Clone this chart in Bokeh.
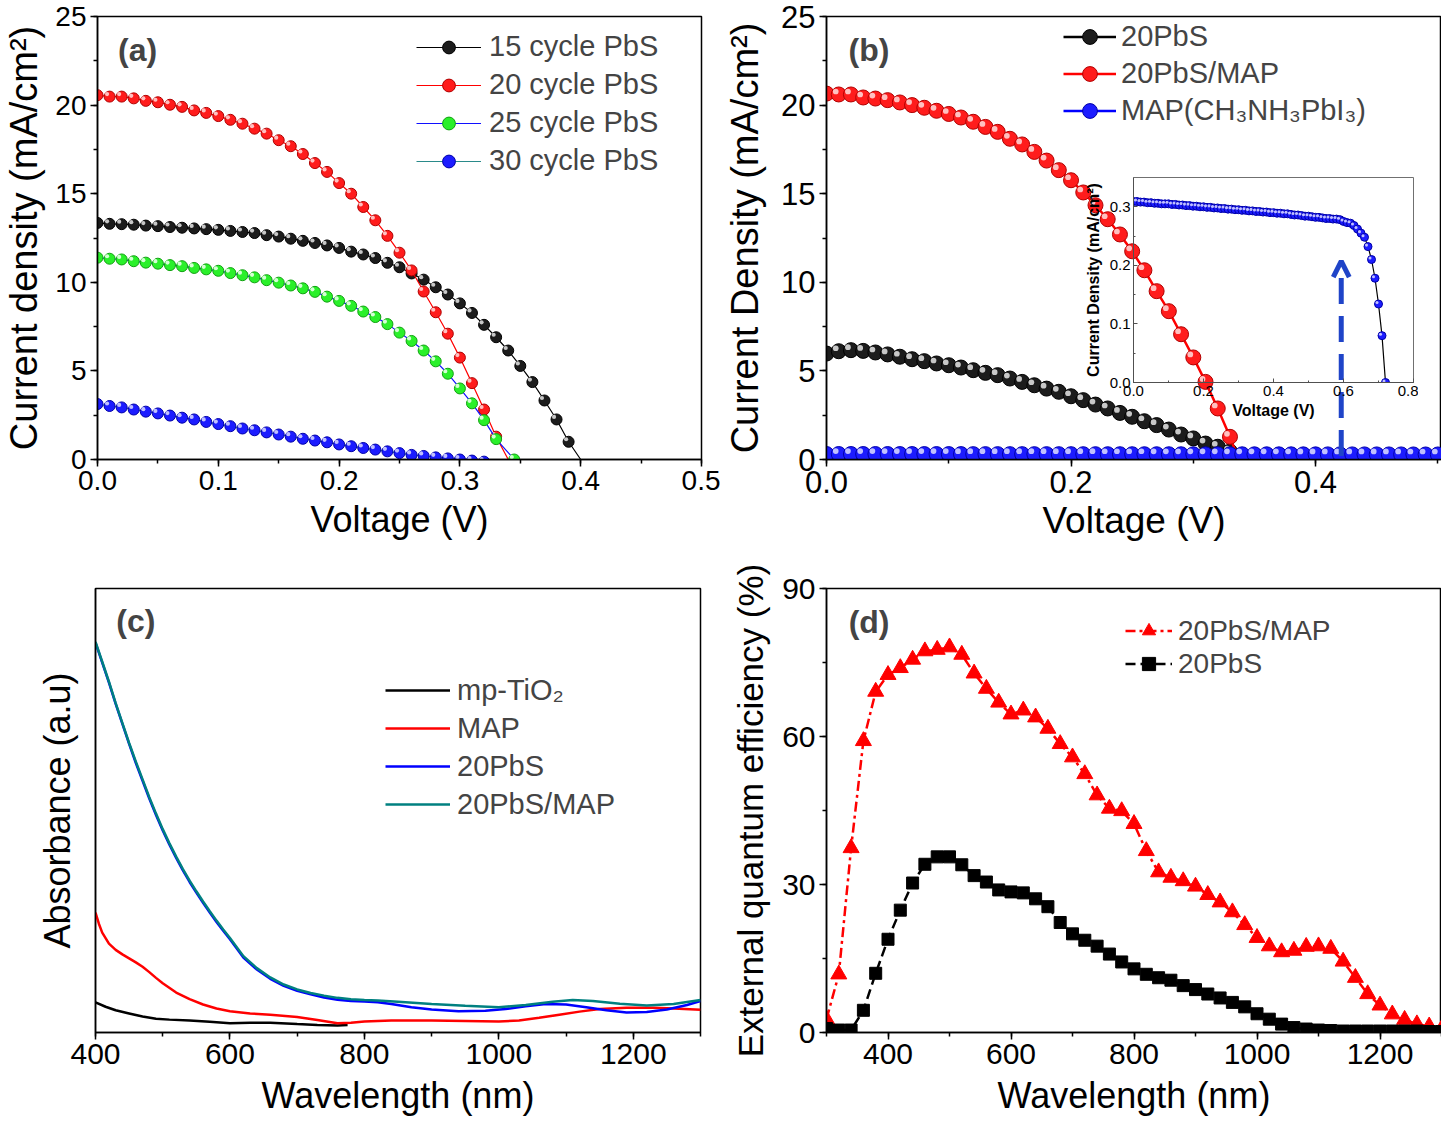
from bokeh.plotting import figure
from bokeh.models import (Range1d, SingleIntervalTicker, FixedTicker, NumeralTickFormatter,
                          Legend, LegendItem, Label, Arrow, OpenHead)
from bokeh.layouts import row, column
from bokeh.embed import file_html
from bokeh.resources import INLINE
import numpy as np

FONT = "Liberation Sans"

# ---------------- Panel (a): J-V for PbS cycles ----------------
V_15 = [0.00, 0.01, 0.02, 0.03, 0.04, 0.05, 0.06, 0.07, 0.08, 0.09, 0.10, 0.11, 0.12, 0.13,
        0.14, 0.15, 0.16, 0.17, 0.18, 0.19, 0.20, 0.21, 0.22, 0.23, 0.24, 0.25, 0.26, 0.27,
        0.28, 0.29, 0.30, 0.31, 0.32, 0.33, 0.34, 0.35, 0.36, 0.37, 0.38, 0.39, 0.40]
J_15 = [13.35, 13.3, 13.28, 13.25, 13.2, 13.17, 13.12, 13.08, 13.04, 13.0, 12.96, 12.9, 12.84,
        12.78, 12.66, 12.58, 12.46, 12.34, 12.22, 12.08, 11.94, 11.73, 11.57, 11.37, 11.1,
        10.85, 10.5, 10.15, 9.72, 9.31, 8.81, 8.27, 7.6, 6.9, 6.15, 5.28, 4.37, 3.33, 2.26,
        1.0, 0.0]
V_20 = [0.00, 0.01, 0.02, 0.03, 0.04, 0.05, 0.06, 0.07, 0.08, 0.09, 0.10, 0.11, 0.12, 0.13,
        0.14, 0.15, 0.16, 0.17, 0.18, 0.19, 0.20, 0.21, 0.22, 0.23, 0.24, 0.25, 0.26, 0.27,
        0.28, 0.29, 0.30, 0.31, 0.32, 0.33, 0.34]
J_20 = [20.56, 20.48, 20.48, 20.38, 20.24, 20.16, 20.02, 19.9, 19.7, 19.56, 19.38, 19.17,
        18.95, 18.67, 18.39, 18.02, 17.68, 17.24, 16.73, 16.23, 15.6, 15.0, 14.25, 13.5,
        12.62, 11.67, 10.67, 9.48, 8.31, 7.1, 5.75, 4.31, 2.82, 1.29, 0.0]
V_25 = [0.00, 0.01, 0.02, 0.03, 0.04, 0.05, 0.06, 0.07, 0.08, 0.09, 0.10, 0.11, 0.12, 0.13,
        0.14, 0.15, 0.16, 0.17, 0.18, 0.19, 0.20, 0.21, 0.22, 0.23, 0.24, 0.25, 0.26, 0.27,
        0.28, 0.29, 0.30, 0.31, 0.32, 0.33, 0.345]
J_25 = [11.39, 11.33, 11.29, 11.19, 11.11, 11.05, 10.97, 10.91, 10.81, 10.73, 10.65, 10.52,
        10.4, 10.28, 10.12, 9.98, 9.82, 9.66, 9.46, 9.19, 8.95, 8.67, 8.35, 8.04, 7.64, 7.16,
        6.69, 6.15, 5.54, 4.84, 4.01, 3.17, 2.22, 1.15, 0.0]
V_30 = [0.00, 0.01, 0.02, 0.03, 0.04, 0.05, 0.06, 0.07, 0.08, 0.09, 0.10, 0.11, 0.12, 0.13,
        0.14, 0.15, 0.16, 0.17, 0.18, 0.19, 0.20, 0.21, 0.22, 0.23, 0.24, 0.25, 0.26, 0.27,
        0.28, 0.29, 0.30, 0.31, 0.32]
J_30 = [3.13, 3.02, 2.94, 2.82, 2.70, 2.6, 2.48, 2.36, 2.26, 2.12, 2.0, 1.88, 1.75, 1.65,
        1.53, 1.41, 1.29, 1.17, 1.07, 0.97, 0.85, 0.75, 0.65, 0.56, 0.46, 0.36, 0.26, 0.2,
        0.12, 0.06, 0.0, -0.06, -0.12]

# ---------------- Panel (b): J-V comparison ----------------
V_PBS = [0.00, 0.01, 0.02, 0.03, 0.04, 0.05, 0.06, 0.07, 0.08, 0.09, 0.10, 0.11, 0.12, 0.13,
         0.14, 0.15, 0.16, 0.17, 0.18, 0.19, 0.20, 0.21, 0.22, 0.23, 0.24, 0.25, 0.26, 0.27,
         0.28, 0.29, 0.30, 0.31, 0.32, 0.33]
J_PBS = [5.98, 6.11, 6.17, 6.13, 6.04, 5.93, 5.8, 5.66, 5.55, 5.42, 5.32, 5.19, 5.04, 4.89,
         4.76, 4.57, 4.38, 4.19, 4.0, 3.82, 3.57, 3.35, 3.1, 2.88, 2.63, 2.41, 2.16, 1.94,
         1.69, 1.41, 1.19, 0.9, 0.72, 0.45]
V_PBSMAP = [0.00, 0.01, 0.02, 0.03, 0.04, 0.05, 0.06, 0.07, 0.08, 0.09, 0.10, 0.11, 0.12,
            0.13, 0.14, 0.15, 0.16, 0.17, 0.18, 0.19, 0.20, 0.21, 0.22, 0.23, 0.24, 0.25,
            0.26, 0.27, 0.28, 0.29, 0.30, 0.31, 0.32, 0.33, 0.337]
J_PBSMAP = [20.65, 20.6, 20.6, 20.43, 20.37, 20.28, 20.15, 20.0, 19.85, 19.68, 19.5, 19.3,
            19.06, 18.77, 18.49, 18.1, 17.78, 17.36, 16.87, 16.33, 15.76, 15.07, 14.35,
            13.56, 12.7, 11.75, 10.68, 9.5, 8.37, 7.07, 5.76, 4.38, 2.88, 1.28, 0.0]
V_MAP = [0.00, 0.01, 0.02, 0.03, 0.04, 0.05, 0.06, 0.07, 0.08, 0.09, 0.10, 0.11, 0.12, 0.13,
         0.14, 0.15, 0.16, 0.17, 0.18, 0.19, 0.20, 0.21, 0.22, 0.23, 0.24, 0.25, 0.26, 0.27,
         0.28, 0.29, 0.30, 0.31, 0.32, 0.33, 0.34, 0.35, 0.36, 0.37, 0.38, 0.39, 0.40, 0.41,
         0.42, 0.43, 0.44, 0.45, 0.46, 0.47, 0.48, 0.49, 0.50, 0.51, 0.52, 0.53, 0.54, 0.55,
         0.56, 0.57, 0.58, 0.59, 0.60, 0.61, 0.62, 0.63, 0.64, 0.65, 0.66, 0.67, 0.68, 0.69,
         0.70, 0.71, 0.72]
J_MAP = [0.309, 0.309, 0.308, 0.308, 0.307, 0.307, 0.306, 0.306, 0.305, 0.305, 0.305, 0.304,
         0.304, 0.303, 0.303, 0.302, 0.302, 0.301, 0.301, 0.300, 0.300, 0.299, 0.299, 0.298,
         0.298, 0.297, 0.297, 0.296, 0.296, 0.295, 0.295, 0.294, 0.294, 0.293, 0.293, 0.292,
         0.292, 0.291, 0.291, 0.290, 0.290, 0.289, 0.289, 0.288, 0.288, 0.287, 0.286, 0.286,
         0.285, 0.284, 0.284, 0.283, 0.282, 0.282, 0.281, 0.280, 0.280, 0.279, 0.279, 0.278,
         0.275, 0.273, 0.272, 0.268, 0.262, 0.255, 0.248, 0.232, 0.210, 0.178, 0.134, 0.080,
         0.0]

# ---------------- Panel (c): absorbance ----------------
WL_TIO2 = [400, 415, 430, 450, 470, 490, 510, 540, 570, 600, 630, 660, 700, 730, 760, 775]
A_TIO2 = [0.068, 0.058, 0.05, 0.043, 0.036, 0.031, 0.029, 0.027, 0.024, 0.021, 0.022, 0.022,
          0.019, 0.017, 0.016, 0.017]
WL_MAPA = [400, 405, 410, 420, 430, 440, 450, 460, 470, 480, 490, 500, 520, 540, 560, 580,
           600, 630, 660, 700, 730, 760, 780, 800, 840, 900, 950, 1000, 1030, 1060, 1090,
           1120, 1150, 1190, 1230, 1260, 1300]
A_MAPA = [0.27, 0.245, 0.225, 0.2, 0.186, 0.176, 0.167, 0.158, 0.148, 0.136, 0.123, 0.111,
          0.09, 0.075, 0.063, 0.054, 0.048, 0.043, 0.04, 0.035, 0.028, 0.021, 0.022, 0.025,
          0.027, 0.027, 0.026, 0.025, 0.027, 0.033, 0.04, 0.047, 0.053, 0.056, 0.056, 0.054,
          0.051]
WL_PBSA = [400, 410, 420, 430, 440, 450, 460, 470, 480, 490, 500, 510, 520, 530, 540, 550,
           560, 570, 580, 590, 600, 620, 640, 660, 680, 700, 720, 740, 760, 780, 800, 820,
           840, 870, 900, 940, 980, 1010, 1040, 1070, 1100, 1130, 1160, 1190, 1220, 1250,
           1280, 1300]
A_PBSA = [0.878, 0.833, 0.788, 0.74, 0.695, 0.65, 0.607, 0.567, 0.527, 0.49, 0.455, 0.423,
          0.393, 0.365, 0.339, 0.315, 0.292, 0.27, 0.249, 0.229, 0.21, 0.169, 0.142, 0.121,
          0.105, 0.094, 0.086, 0.079, 0.074, 0.071, 0.070, 0.068, 0.064, 0.057, 0.052, 0.048,
          0.049, 0.053, 0.059, 0.064, 0.063, 0.057, 0.050, 0.045, 0.046, 0.052, 0.062, 0.071]
WL_PBSMAPA = [400, 410, 420, 430, 440, 450, 460, 470, 480, 490, 500, 510, 520, 530, 540, 550,
              560, 570, 580, 590, 600, 620, 640, 660, 680, 700, 720, 740, 760, 780, 800, 820,
              850, 900, 950, 1000, 1040, 1080, 1110, 1140, 1180, 1220, 1260, 1300]
A_PBSMAPA = [0.88, 0.835, 0.79, 0.742, 0.697, 0.652, 0.61, 0.57, 0.53, 0.493, 0.458, 0.426,
             0.396, 0.368, 0.342, 0.318, 0.295, 0.273, 0.252, 0.232, 0.213, 0.172, 0.145,
             0.124, 0.108, 0.097, 0.089, 0.083, 0.078, 0.075, 0.073, 0.072, 0.069, 0.064,
             0.060, 0.057, 0.062, 0.069, 0.073, 0.071, 0.065, 0.061, 0.064, 0.073]

# ---------------- Panel (d): EQE ----------------
WL_EQE = [300, 320, 340, 360, 380, 400, 420, 440, 460, 480, 500, 520, 540, 560, 580, 600, 620,
          640, 660, 680, 700, 720, 740, 760, 780, 800, 820, 840, 860, 880, 900, 920, 940, 960,
          980, 1000, 1020, 1040, 1060, 1080, 1100, 1120, 1140, 1160, 1180, 1200, 1220, 1240,
          1260, 1280, 1300]
EQE_PBSMAP = [2.7, 11.8, 37.4, 59.1, 69.1, 72.5, 73.9, 75.6, 77.3, 77.6, 78.1, 76.6, 72.8,
              69.7, 66.9, 64.5, 65.3, 63.9, 61.6, 58.5, 55.8, 52.4, 48.1, 45.4, 44.9, 42.3,
              36.8, 32.5, 31.4, 30.7, 29.6, 27.9, 26.4, 24.4, 21.8, 19.2, 17.5, 16.3, 16.6,
              17.4, 17.5, 17.0, 14.4, 11.1, 7.8, 5.5, 3.7, 2.6, 1.7, 1.26, 0.7]
EQE_PBS = [0.8, 0.5, 0.5, 4.5, 12.0, 18.9, 24.8, 30.3, 34.1, 35.6, 35.6, 34.0, 31.8, 30.5,
           28.9, 28.5, 28.3, 27.1, 25.5, 22.3, 20.0, 18.7, 17.5, 15.9, 14.3, 12.9, 11.8, 11.1,
           10.6, 9.5, 8.7, 7.8, 7.0, 6.1, 5.2, 3.8, 2.7, 1.7, 1.0, 0.7, 0.5, 0.4, 0.3, 0.3,
           0.3, 0.3, 0.3, 0.3, 0.3, 0.2, 0.2]

BALL = {
    "black": ("#1c1c1c", "#000000", "#c8c8c8"),
    "red": ("#ff1c1c", "#b00000", "#ffc0c0"),
    "green": ("#2af02a", "#10a010", "#d4ffd4"),
    "blue": ("#1c1cff", "#0000a8", "#c0c0ff"),
}


def make_fig(w, h, xr, yr, bl, br, bt, bb, frame=False, **kw):
    size = dict(frame_width=w - bl - br, frame_height=h - bt - bb) if frame else \
        dict(width=w, height=h)
    p = figure(x_range=Range1d(*xr), y_range=Range1d(*yr),
               output_backend="svg", toolbar_location=None,
               min_border_left=bl, min_border_right=br, min_border_top=bt,
               min_border_bottom=bb, **size, **kw)
    p.xgrid.visible = False
    p.ygrid.visible = False
    p.outline_line_color = "black"
    p.outline_line_width = 1.5
    p._fw = w - bl - br
    p._fh = h - bt - bb
    return p


def style_axes(p, tick_px, lab_px, xlab, ylab, xstand=6, ystand=8, tick_out=7, minor_out=4,
               tick_in=0, minor_in=0, lw=1.5, color="black", bold=False, label_standoff=4):
    for ax in [p.xaxis[0], p.yaxis[0]]:
        ax.axis_line_width = lw
        ax.axis_line_color = color
        ax.major_tick_line_width = lw
        ax.minor_tick_line_width = lw
        ax.major_tick_line_color = color
        ax.minor_tick_line_color = color
        ax.major_tick_out = tick_out
        ax.major_tick_in = tick_in
        ax.minor_tick_out = minor_out
        ax.minor_tick_in = minor_in
        ax.major_label_text_font = FONT
        ax.major_label_text_font_size = f"{tick_px}px"
        ax.major_label_text_color = "black"
        ax.major_label_standoff = label_standoff
        ax.axis_label_text_font = FONT
        ax.axis_label_text_font_size = f"{lab_px}px"
        ax.axis_label_text_font_style = "bold" if bold else "normal"
        ax.axis_label_text_color = "black"
    p.xaxis[0].axis_label = xlab
    p.yaxis[0].axis_label = ylab
    p.xaxis[0].axis_label_standoff = xstand
    p.yaxis[0].axis_label_standoff = ystand


def balls(p, x, y, color, size, line_color=None, line_width=1.2, hl_px=2.5, n=None):
    fill, edge, hl = BALL[color]
    x = np.asarray(x, dtype=float)
    y = np.asarray(y, dtype=float)
    ln = p.line(x, y, line_color=line_color or fill, line_width=line_width)
    xm, ym = (x, y) if n is None else (x[:n], y[:n])
    b = p.scatter(xm, ym, size=size, fill_color=fill, line_color=edge, line_width=1)
    dx = hl_px * (p.x_range.end - p.x_range.start) / p._fw
    dy = hl_px * (p.y_range.end - p.y_range.start) / p._fh
    p.scatter(xm - dx, ym + dy, size=size * 0.38, fill_color=hl, line_alpha=0)
    return ln, b


def make_legend(p, items, loc, font_px, gw, gh, standoff, spacing):
    lg = Legend(items=items, location=loc, label_text_font=FONT,
                label_text_font_size=f"{font_px}px", glyph_width=gw, glyph_height=gh,
                label_height=gh, label_standoff=standoff, spacing=spacing, padding=0,
                margin=0, border_line_alpha=0, background_fill_alpha=0)
    p.add_layout(lg)


def panel_label(p, x, y, text):
    p.add_layout(Label(x=x, y=y, text=text, text_font=FONT, text_font_size="32px",
                       text_font_style="bold", text_baseline="middle"))


# ---------- (a) ----------
pa = make_fig(720, 560, (0, 0.5), (0, 25), 96, 19, 16, 101)
style_axes(pa, 28, 38, "Voltage (V)", "Current density (mA/cm²)", xstand=6, ystand=7)
pa.xaxis[0].axis_label_text_font_size = "36px"
pa.xaxis[0].ticker = SingleIntervalTicker(interval=0.1, num_minor_ticks=2)
pa.yaxis[0].ticker = SingleIntervalTicker(interval=5, num_minor_ticks=2)
pa.xaxis[0].formatter = NumeralTickFormatter(format="0.0")
a15 = balls(pa, V_15, J_15, "black", 11, line_color="black", n=len(V_15) - 1)
a20 = balls(pa, V_20, J_20, "red", 11, line_color="#ff0000", n=len(V_20) - 1)
a25 = balls(pa, V_25, J_25, "green", 11, line_color="#1010ff")
a30 = balls(pa, V_30, J_30, "blue", 11, line_color="#2a8a8a")
make_legend(pa, [LegendItem(label="15 cycle PbS", renderers=list(a15)),
                 LegendItem(label="20 cycle PbS", renderers=list(a20)),
                 LegendItem(label="25 cycle PbS", renderers=list(a25)),
                 LegendItem(label="30 cycle PbS", renderers=list(a30))],
            (319, 282), 29, 65, 32, 8, 5)
panel_label(pa, 0.017, 23.1, "(a)")

# ---------- (b) ----------
pb = make_fig(721, 560, (0, 0.503), (0, 25), 106, 0, 16, 98)
style_axes(pb, 31, 38, "Voltage (V)", "Current Density (mA/cm²)", xstand=4, ystand=12)
pb.xaxis[0].axis_label_text_font_size = "37px"
pb.xaxis[0].ticker = SingleIntervalTicker(interval=0.2, num_minor_ticks=2)
pb.yaxis[0].ticker = SingleIntervalTicker(interval=5, num_minor_ticks=2)
pb.xaxis[0].formatter = NumeralTickFormatter(format="0.0")
b1 = balls(pb, V_PBS, J_PBS, "black", 15, line_color="black", line_width=2.5, hl_px=3)
b2 = balls(pb, V_PBSMAP, J_PBSMAP, "red", 15, line_color="#ff0000", line_width=2.5,
           hl_px=3, n=len(V_PBSMAP) - 1)
b3 = balls(pb, V_MAP, J_MAP, "blue", 15, line_color="#0000ff", line_width=2.5, hl_px=3)
make_legend(pb, [LegendItem(label="20PbS", renderers=list(b1)),
                 LegendItem(label="20PbS/MAP", renderers=list(b2)),
                 LegendItem(label="MAP(CH₃NH₃PbI₃)", renderers=list(b3))],
            (237, 330), 29, 53, 37, 5, 0)
panel_label(pb, 0.018, 23.1, "(b)")
ARROW_BLUE = "#1f44c8"
pb.add_layout(Arrow(end=OpenHead(size=16, line_color=ARROW_BLUE, line_width=5),
                    x_start=0.421, y_start=0.2, x_end=0.421, y_end=11.2,
                    line_color=ARROW_BLUE, line_width=5, line_dash="26 12"))

# ---------- inset (frame 280 x 205) ----------
ins = make_fig(343, 260, (0, 0.8), (0, 0.35), 58, 5, 5, 50, frame=True,
               background_fill_alpha=0, border_fill_alpha=0)
ins.outline_line_color = "#707070"
ins.outline_line_width = 1
style_axes(ins, 15, 16, "Voltage (V)", "Current Density (mA/cm²)", xstand=3, ystand=5,
           tick_out=0, minor_out=0, tick_in=4, minor_in=2, lw=1, color="#505050",
           bold=True, label_standoff=3)
ins.xaxis[0].ticker = SingleIntervalTicker(interval=0.2, num_minor_ticks=2)
ins.yaxis[0].ticker = SingleIntervalTicker(interval=0.1, num_minor_ticks=2)
ins.xaxis[0].formatter = NumeralTickFormatter(format="0.0")
ins.yaxis[0].formatter = NumeralTickFormatter(format="0.0")
balls(ins, V_MAP, J_MAP, "blue", 8, line_color="black", line_width=1.2, hl_px=1.5)
ins.styles = {"position": "absolute", "left": "1075px", "top": "161px", "z-index": "5"}

# ---------- (c) ----------
pc = make_fig(720, 578, (400, 1300), (0, 1), 95, 20, 28, 106)
style_axes(pc, 30, 36, "Wavelength (nm)", "Absorbance (a.u)", xstand=8, ystand=18)
pc.xaxis[0].ticker = SingleIntervalTicker(interval=200, num_minor_ticks=2)
pc.yaxis[0].ticker = FixedTicker(ticks=[])
c1 = pc.line(WL_TIO2, A_TIO2, line_color="black", line_width=2.5)
c2 = pc.line(WL_MAPA, A_MAPA, line_color="#ff0000", line_width=2.5)
c3 = pc.line(WL_PBSA, A_PBSA, line_color="#0000ff", line_width=2.5)
c4 = pc.line(WL_PBSMAPA, A_PBSMAPA, line_color="#008080", line_width=2.5)
make_legend(pc, [LegendItem(label="mp-TiO₂", renderers=[c1]),
                 LegendItem(label="MAP", renderers=[c2]),
                 LegendItem(label="20PbS", renderers=[c3]),
                 LegendItem(label="20PbS/MAP", renderers=[c4])],
            (290, 210), 29, 65, 36, 7, 2)
panel_label(pc, 431, 0.926, "(c)")

# ---------- (d) ----------
pd_ = make_fig(721, 578, (300, 1300), (0, 90), 106, 0, 25, 104)
style_axes(pd_, 30, 35, "Wavelength (nm)", "External quantum efficiency (%)",
           xstand=8, ystand=9)
pd_.xaxis[0].axis_label_text_font_size = "36px"
pd_.xaxis[0].ticker = SingleIntervalTicker(interval=200, num_minor_ticks=2)
pd_.yaxis[0].ticker = SingleIntervalTicker(interval=30, num_minor_ticks=2)
d1l = pd_.line(WL_EQE, EQE_PBSMAP, line_color="#ff0000", line_width=2.5, line_dash="10 4 3 4")
d1m = pd_.scatter(WL_EQE, EQE_PBSMAP, marker="triangle", size=16, fill_color="#ff0000",
                  line_color="#ff0000")
d2l = pd_.line(WL_EQE, EQE_PBS, line_color="black", line_width=2.5, line_dash="10 5")
d2m = pd_.scatter(WL_EQE, EQE_PBS, marker="square", size=12, fill_color="black",
                  line_color="black")
make_legend(pd_, [LegendItem(label="20PbS/MAP", renderers=[d1l, d1m]),
                  LegendItem(label="20PbS", renderers=[d2l, d2m])],
            (299, 352), 28, 47, 33, 6, 0)
panel_label(pd_, 336, 83.2, "(d)")

top = row(pa, pb, ins)
bottom = row(pc, pd_)
layout = column(top, bottom)

open("out.html", "w").write(file_html(layout, INLINE))
